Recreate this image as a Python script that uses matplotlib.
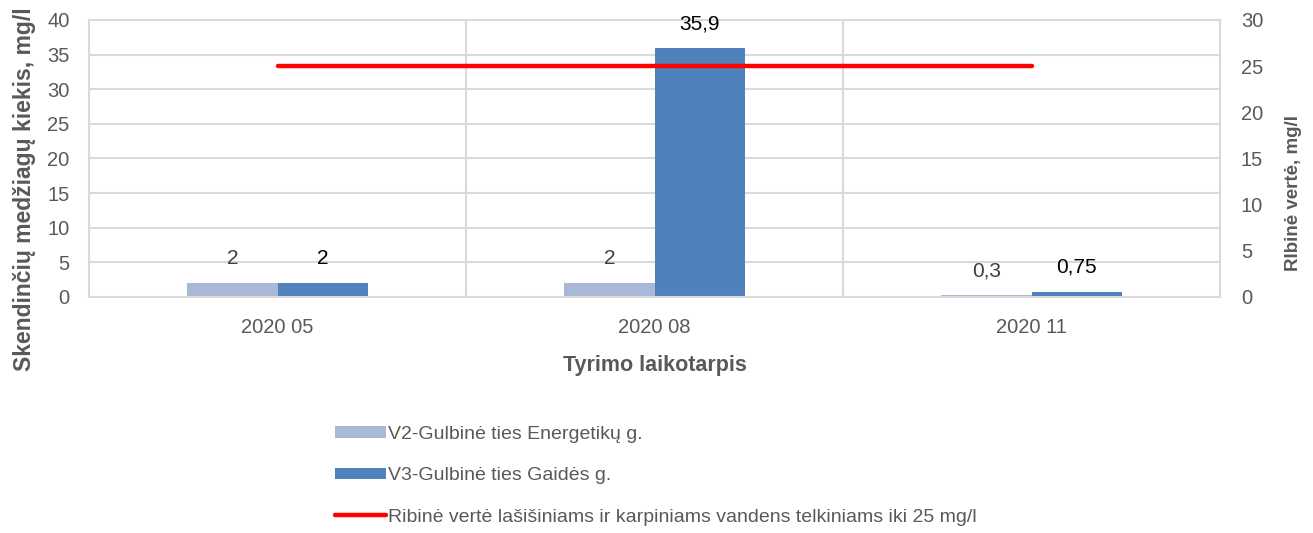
import numpy as np
import matplotlib
matplotlib.use("Agg")
import matplotlib.pyplot as plt

plt.rcParams['font.family'] = ['Liberation Sans', 'DejaVu Sans']

# data
periods = ["2020 05", "2020 08", "2020 11"]
v2_values = [2, 2, 0.3]
v3_values = [2, 35.9, 0.75]
v2_labels = ["2", "2", "0,3"]
v3_labels = ["2", "35,9", "0,75"]
limit_values = [25, 25, 25]

v2_name = "V2-Gulbinė ties Energetikų g."
v3_name = "V3-Gulbinė ties Gaidės g."
limit_name = "Ribinė vertė lašišiniams ir karpiniams vandens telkiniams iki 25 mg/l"

grey_text = "#595959"
grid_col = "#D9D9D9"

fig = plt.figure(figsize=(13.13, 5.33), dpi=100)
ax = fig.add_axes([0.0678, 0.4428, 0.8614, 0.5197])

x = np.arange(len(periods))
w = 0.24
b1 = ax.bar(x - w / 2, v2_values, w, color="#A9B8D6", label=v2_name, zorder=2)
b2 = ax.bar(x + w / 2, v3_values, w, color="#4F81BD", label=v3_name, zorder=2)

for xi, val, lab in zip(x, v2_values, v2_labels):
    ax.annotate(lab, (xi - w / 2, val), xytext=(0, 17.5), textcoords="offset points",
                ha="center", va="center", fontsize=15, color="#404040")
for xi, val, lab in zip(x, v3_values, v3_labels):
    ax.annotate(lab, (xi + w / 2, val), xytext=(0, 17.5), textcoords="offset points",
                ha="center", va="center", fontsize=15, color="black")

ax.set_xlim(-0.5, 2.5)
ax.set_ylim(0, 40)
ax.set_yticks(np.arange(0, 41, 5))
ax.set_xticks(x)
ax.set_xticklabels(periods)
ax.set_xticks([0.5, 1.5], minor=True)
ax.grid(axis="y", color=grid_col, linewidth=1.5, zorder=0)
ax.grid(axis="x", which="minor", color=grid_col, linewidth=1.5, zorder=0)
ax.tick_params(axis="both", which="both", length=0, labelsize=14.5, labelcolor=grey_text)
ax.tick_params(axis="y", pad=14)
ax.tick_params(axis="x", pad=15)
for s in ax.spines.values():
    s.set_color(grid_col)
    s.set_linewidth(1.5)
ax.set_axisbelow(True)

ax.set_ylabel("Skendinčių medžiagų kiekis, mg/l", fontsize=16.5, fontweight="bold",
              color=grey_text)
ax.yaxis.set_label_coords(-0.047, 0.39)
ax.set_xlabel("Tyrimo laikotarpis", fontsize=15.5, fontweight="bold",
              color=grey_text, labelpad=13)

ax2 = ax.twinx()
line, = ax2.plot(x, limit_values, color="#FF0000", linewidth=3.2,
                 solid_capstyle="round", label=limit_name)
ax2.set_ylim(0, 30)
ax2.set_yticks(np.arange(0, 31, 5))
ax2.tick_params(axis="y", length=0, labelsize=14.5, labelcolor=grey_text, pad=15)
for s in ax2.spines.values():
    s.set_visible(False)
ax2.set_ylabel("RIbinė vertė, mg/l", fontsize=13.5, fontweight="bold",
               color=grey_text)
ax2.yaxis.set_label_coords(1.0575, 0.375)

fig.legend(handles=[b1, b2, line], loc="upper left",
           bbox_to_anchor=(0.2475, 0.219), frameon=False, fontsize=14,
           labelcolor=grey_text, handlelength=2.65, handletextpad=0.1,
           handleheight=0.55, labelspacing=1.25, borderpad=0)

fig.savefig("out.png", dpi=100)
